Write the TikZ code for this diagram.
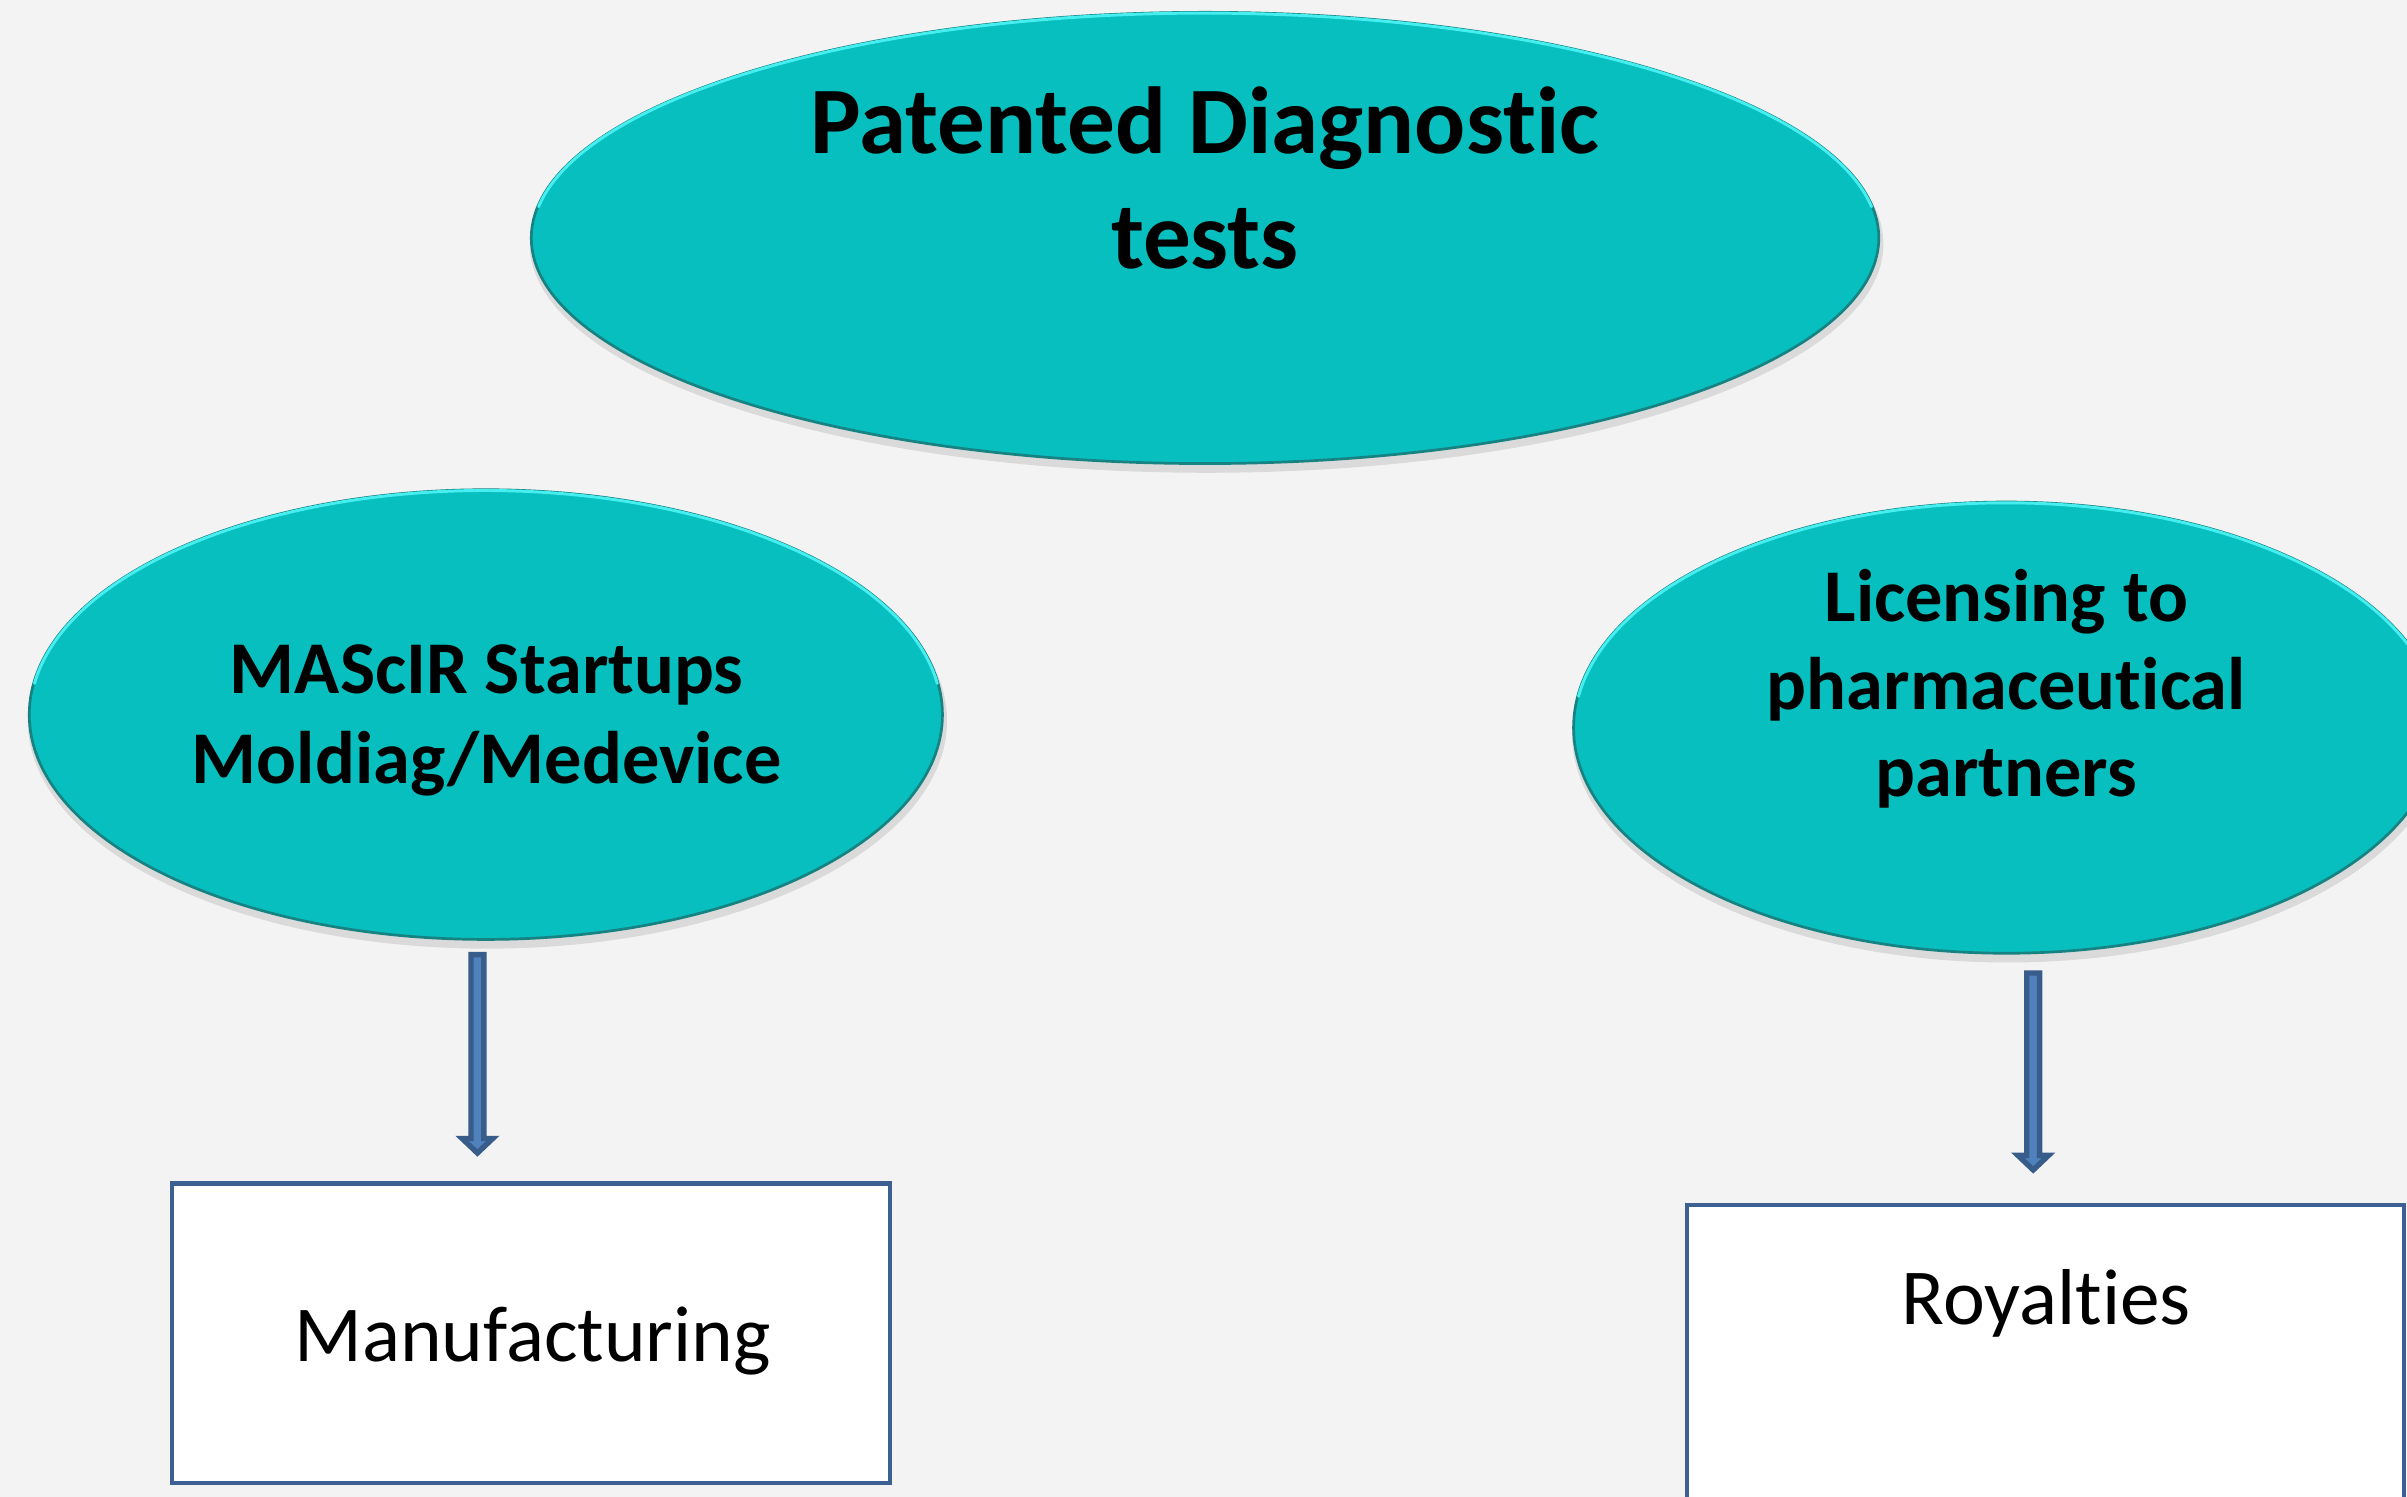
\documentclass[tikz,border=0pt]{standalone}
\usepackage{fontspec}
\setmainfont[Ligatures=NoCommon,RawFeature=-liga]{Carlito}
\usetikzlibrary{shapes.geometric,calc}
\definecolor{bg}{RGB}{243,243,243}
\definecolor{tealfill}{RGB}{7,191,190}
\definecolor{tealedge}{RGB}{22,130,130}
\definecolor{tealhl}{RGB}{70,238,240}
\definecolor{arrowfill}{RGB}{79,129,189}
\definecolor{arrowedge}{RGB}{56,93,138}
\definecolor{boxedge}{RGB}{60,96,145}
\newcommand\myblockarrow[2]{%
  \draw[blockarrow] ($(#1)+(-4.2,0)$) -- ($(#1)+(4.2,0)$) -- ($(#2)+(4.2,-11)$) -- ($(#2)+(10,-11)$) -- ($(#2)+(0,-1.5)$) -- ($(#2)+(-10,-11)$) -- ($(#2)+(-4.2,-11)$) -- cycle;}
\begin{document}
\begin{tikzpicture}[x=0.02cm,y=-0.02cm,
  oval/.style={ellipse, fill=tealfill, draw=tealedge, line width=1pt, inner sep=0pt},
  ovalshadow/.style={ellipse, fill=black, opacity=0.10, inner sep=0pt, draw=none},
  titletext/.style={font=\fontsize{35.3}{42}\selectfont\bfseries, anchor=base, inner sep=0pt},
  ovaltext/.style={font=\fontsize{27.6}{33}\selectfont\bfseries, anchor=base, inner sep=0pt},
  boxtext/.style={font=\fontsize{29.4}{35}\selectfont, anchor=base, inner sep=0pt},
  outbox/.style={rectangle, fill=white, draw=boxedge, line width=1.6pt, inner sep=0pt},
  blockarrow/.style={fill=arrowfill, draw=arrowedge, line width=2pt, line join=miter},
  highlight/.style={tealhl, line width=1.1pt, line cap=round}]

\useasboundingbox (0,0) rectangle (1568,975);
\clip (0,0) rectangle (1568,975);
\fill[bg] (0,0) rectangle (1568,975);

% shadows
\node[ovalshadow, minimum width=17.64cm, minimum height=5.96cm] (topsh) at (786,159) {};
\node[ovalshadow, minimum width=11.98cm, minimum height=5.94cm] (lsh) at (317.5,469.5) {};
\node[ovalshadow, minimum width=11.36cm, minimum height=5.96cm] (rsh) at (1308,478) {};

% ovals
\node[oval, minimum width=17.56cm, minimum height=5.88cm] (top) at (785,155) {};
\node[oval, minimum width=11.9cm, minimum height=5.86cm] (lell) at (316.5,465.5) {};
\node[oval, minimum width=11.28cm, minimum height=5.88cm] (rell) at (1307,474) {};

% highlights on upper rims
\draw[highlight] ([shift={(172:8.77cm and 2.93cm)}]top.center) arc[start angle=172, end angle=8, x radius=8.77cm, y radius=2.93cm];
\draw[highlight] ([shift={(172:5.94cm and 2.92cm)}]lell.center) arc[start angle=172, end angle=8, x radius=5.94cm, y radius=2.92cm];
\draw[highlight] ([shift={(172:5.63cm and 2.93cm)}]rell.center) arc[start angle=172, end angle=8, x radius=5.63cm, y radius=2.93cm];

% oval texts
\node[titletext] (t1) at (785,99.7) {Patented Diagnostic};
\node[titletext] (t2) at (785,175) {tests};
\node[ovaltext] (l1) at (317,452) {MAScIR Startups};
\node[ovaltext] (l2) at (317,510.7) {Moldiag/Medevice};
\node[ovaltext] (r1) at (1307,405) {Licensing to};
\node[ovaltext] (r2) at (1307,462) {pharmaceutical};
\node[ovaltext] (r3) at (1307,518.6) {partners};

% boxes
\node[outbox, minimum width=9.36cm, minimum height=3.9cm] (lbox) at (346,868.5) {};
\node[outbox, minimum width=9.34cm, minimum height=4.6cm] (rbox) at (1332.5,900) {};
\node[boxtext] (mtext) at (347,887) {Manufacturing};
\node[boxtext] (rtext) at (1333,862.5) {Royalties};

% arrows
\coordinate (a1s) at ($(lell.south)+(-5.5,9)$);
\coordinate (a1e) at ($(lbox.north -| a1s)+(0,-17)$);
\coordinate (a2s) at ($(rell.south)+(17.5,12)$);
\coordinate (a2e) at ($(rbox.north -| a2s)+(0,-20)$);
\myblockarrow{a1s}{a1e}
\myblockarrow{a2s}{a2e}
\end{tikzpicture}
\end{document}
